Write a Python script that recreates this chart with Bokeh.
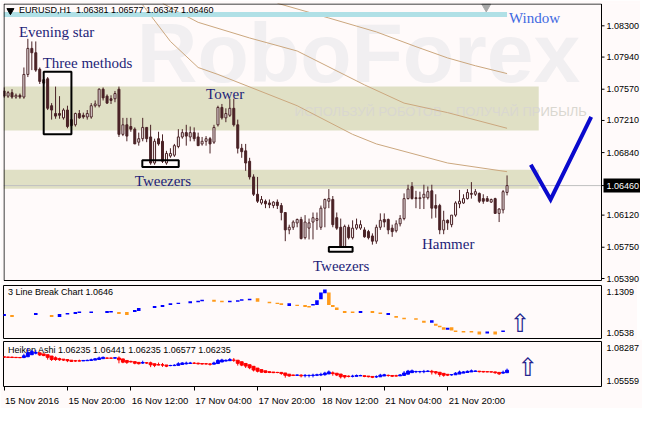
from bokeh.plotting import figure
from bokeh.layouts import column
from bokeh.models import ColumnDataSource, FixedTicker, PrintfTickFormatter, Range1d
from bokeh.core.properties import value
from bokeh.embed import file_html
from bokeh.resources import INLINE

# ---------------- data (EURUSD H1, bar index 0 = 15 Nov 2016 00:00) ----------------
open_ = [1.0755,1.0749,1.0753,1.0748,1.0750,1.0748,1.0774,1.0804,1.0799,1.0780,
         1.0764,1.0769,1.0738,1.0729,1.0729,1.0724,1.0733,1.0715,1.0716,1.0729,
         1.0727,1.0725,1.0725,1.0738,1.0738,1.0757,1.0749,1.0746,1.0746,1.0757,
         1.0705,1.0716,1.0714,1.0711,1.0696,1.0700,1.0713,1.0702,1.0672,1.0700,
         1.0697,1.0672,1.0680,1.0681,1.0691,1.0702,1.0707,1.0702,1.0707,1.0702,
         1.0694,1.0697,1.0700,1.0696,1.0716,1.0736,1.0724,1.0727,1.0735,1.0716,
         1.0689,1.0686,1.0674,1.0656,1.0636,1.0626,1.0628,1.0626,1.0623,1.0627,
         1.0623,1.0615,1.0595,1.0598,1.0603,1.0607,1.0586,1.0597,1.0604,1.0606,
         1.0598,1.0620,1.0628,1.0630,1.0609,1.0598,1.0575,1.0598,1.0586,1.0597,
         1.0597,1.0595,1.0593,1.0588,1.0582,1.0598,1.0607,1.0607,1.0597,1.0594,
         1.0602,1.0608,1.0631,1.0645,1.0632,1.0631,1.0632,1.0632,1.0640,1.0623,
         1.0623,1.0595,1.0606,1.0601,1.0612,1.0625,1.0626,1.0631,1.0637,1.0636,
         1.0637,1.0631,1.0631,1.0627,1.0631,1.0614,1.0618,1.06381]
high = [1.0759,1.0755,1.0757,1.0752,1.0752,1.0782,1.0815,1.0812,1.0812,1.0782,
        1.0771,1.0771,1.0741,1.0760,1.0749,1.0735,1.0738,1.0722,1.0730,1.0733,
        1.0730,1.0733,1.0741,1.0744,1.0758,1.0759,1.0751,1.0750,1.0755,1.0760,
        1.0724,1.0724,1.0724,1.0713,1.0707,1.0724,1.0713,1.0716,1.0700,1.0708,
        1.0705,1.0686,1.0689,1.0694,1.0711,1.0711,1.0716,1.0714,1.0713,1.0707,
        1.0702,1.0703,1.0702,1.0716,1.0738,1.0740,1.0735,1.0746,1.0746,1.0722,
        1.0694,1.0694,1.0678,1.0659,1.0656,1.0634,1.0630,1.0630,1.0628,1.0630,
        1.0626,1.0615,1.0601,1.0606,1.0608,1.0610,1.0612,1.0608,1.0615,1.0615,
        1.0623,1.0631,1.0642,1.0634,1.0615,1.0608,1.0601,1.0601,1.0606,1.0608,
        1.0606,1.0598,1.0595,1.0591,1.0601,1.0614,1.0614,1.0608,1.0601,1.0606,
        1.0612,1.0637,1.0647,1.0650,1.0640,1.0639,1.0647,1.0645,1.0647,1.0636,
        1.0625,1.0617,1.0607,1.0612,1.0628,1.0641,1.0636,1.0642,1.0650,1.0642,
        1.0638,1.0636,1.0634,1.0631,1.0632,1.0620,1.0641,1.06577]
low = [1.0747,1.0747,1.0746,1.0746,1.0746,1.0746,1.0771,1.0779,1.0777,1.0763,
       1.0762,1.0733,1.0722,1.0723,1.0723,1.0722,1.0712,1.0713,1.0714,1.0723,
       1.0723,1.0722,1.0723,1.0736,1.0736,1.0744,1.0740,1.0740,1.0742,1.0702,
       1.0703,1.0697,1.0708,1.0694,1.0692,1.0697,1.0696,1.0670,1.0670,1.0692,
       1.0672,1.0670,1.0678,1.0679,1.0689,1.0700,1.0692,1.0697,1.0697,1.0692,
       1.0692,1.0692,1.0683,1.0694,1.0714,1.0722,1.0719,1.0725,1.0714,1.0683,
       1.0678,1.0663,1.0653,1.0634,1.0626,1.0624,1.0620,1.0620,1.0620,1.0619,
       1.0606,1.0582,1.0590,1.0595,1.0598,1.0584,1.0584,1.0584,1.0584,1.0595,
       1.0595,1.0598,1.0620,1.0598,1.0595,1.0575,1.0575,1.0584,1.0584,1.0595,
       1.0595,1.0586,1.0584,1.0578,1.0579,1.0595,1.0598,1.0590,1.0587,1.0592,
       1.0599,1.0606,1.0630,1.0630,1.0620,1.0619,1.0619,1.0630,1.0608,1.0609,
       1.0590,1.0590,1.0595,1.0598,1.0610,1.0620,1.0625,1.0630,1.0631,1.0634,
       1.0626,1.0625,1.0628,1.0626,1.0614,1.0604,1.0614,1.06347]
close = [1.0749,1.0753,1.0748,1.0750,1.0748,1.0774,1.0804,1.0799,1.0779,1.0766,
         1.0768,1.0735,1.0733,1.0726,1.0727,1.0733,1.0714,1.0722,1.0729,1.0724,
         1.0725,1.0729,1.0738,1.0740,1.0757,1.0747,1.0741,1.0744,1.0752,1.0705,
         1.0716,1.0703,1.0711,1.0694,1.0700,1.0713,1.0700,1.0672,1.0697,1.0694,
         1.0674,1.0683,1.0683,1.0692,1.0702,1.0707,1.0703,1.0707,1.0700,1.0692,
         1.0697,1.0700,1.0694,1.0713,1.0736,1.0724,1.0729,1.0735,1.0716,1.0689,
         1.0685,1.0672,1.0656,1.0636,1.0628,1.0630,1.0625,1.0624,1.0627,1.0623,
         1.0615,1.0595,1.0598,1.0604,1.0607,1.0585,1.0604,1.0603,1.0609,1.0608,
         1.0620,1.0630,1.0631,1.0601,1.0597,1.0575,1.0599,1.0586,1.0597,1.0601,
         1.0601,1.0587,1.0586,1.0582,1.0598,1.0606,1.0604,1.0595,1.0593,1.0602,
         1.0608,1.0631,1.0642,1.0631,1.0631,1.0632,1.0636,1.0639,1.0620,1.0620,
         1.0595,1.0606,1.0603,1.0612,1.0626,1.0628,1.0631,1.0638,1.0636,1.0639,
         1.0628,1.0628,1.0628,1.0630,1.0614,1.0619,1.0639,1.06460]

# moving averages (bar index, price)
ma1_bar = [69, 82, 94, 104, 112, 119, 127]
ma1_val = [1.0856, 1.0839, 1.0823, 1.0806, 1.0793, 1.0784, 1.0775]
ma2_bar = [40, 44, 49, 62, 74, 91, 101, 112, 127]
ma2_val = [1.0856, 1.0846, 1.0834, 1.0816, 1.0801, 1.0762, 1.0741, 1.0730, 1.0712]
ma3_bar = [35, 42, 49, 54, 74, 88, 94, 112, 127]
ma3_val = [1.0854, 1.0812, 1.0782, 1.0774, 1.0738, 1.0705, 1.0694, 1.0672, 1.0662]

# support / resistance zones
zone_top = [1.0760, 1.06643]
zone_bottom = [1.07094, 1.06423]
zone_end_bar = 135

# "Window" line
window_price = 1.0843
window_end_bar = 127

# pattern labels
ann_text = ["Evening star", "Three methods", "Tower", "Tweezers", "Tweezers", "Hammer"]
ann_bar = [3.75, 9.75, 51.0, 33.0, 78.0, 105.5]
ann_price = [1.08224, 1.07875, 1.07520, 1.06511, 1.05529, 1.05785]

# pattern boxes
box_left = [10.0, 34.9, 82.0]
box_right = [17.0, 44.1, 88.0]
box_top = [1.0777, 1.06752, 1.05752]
box_bottom = [1.0705, 1.06673, 1.05697]

# forecast "V"
v_bar = [133.0, 138.0, 148.25]
v_price = [1.0670, 1.0630, 1.0725]

last_price = 1.06460
main_ticks = [1.0830, 1.0794, 1.0757, 1.0721, 1.0684, 1.0646, 1.0612, 1.0575, 1.0539]

# 3 Line Break blocks
lb_bar = [0,2,8,12,14,16,18,19,22,26,27,29,31,33,34,38,40,42,44,47,49,50,53,55,57,59,60,62,64,67,
          69,70,72,74,76,77,78,79,80,81,82,83,84,86,88,90,93,95,97,99,101,104,106,108,109,110,111,
          112,113,114,116,118,120,122,124,126]
lb_top = [1.0896,1.0877,1.0915,1.0877,1.0896,1.0915,1.0933,1.0943,1.0943,1.0952,1.0952,1.0933,1.0933,
          1.0971,1.1009,1.1046,1.1065,1.1103,1.1112,1.1140,1.1150,1.1168,1.1168,1.1150,1.1150,1.1159,
          1.1178,1.1187,1.1197,1.1131,1.1112,1.1103,1.1103,1.1074,1.1065,1.1046,1.1084,1.1159,1.1309,
          1.1366,1.1309,1.1065,1.1018,1.0952,1.0943,1.0952,1.0952,1.0924,1.0915,1.0858,1.0821,1.0811,
          1.0764,1.0774,1.0708,1.0670,1.0642,1.0633,1.0642,1.0576,1.0567,1.0567,1.0557,1.0557,1.0557,1.0576]
lb_bottom = [1.0858,1.0839,1.0877,1.0839,1.0839,1.0886,1.0896,1.0915,1.0915,1.0915,1.0924,1.0896,1.0877,
             1.0933,1.0952,1.1009,1.1027,1.1065,1.1084,1.1103,1.1121,1.1140,1.1131,1.1121,1.1121,1.1131,
             1.1150,1.1159,1.1131,1.1103,1.1084,1.1065,1.1046,1.1046,1.1027,1.1018,1.1056,1.1065,1.1178,
             1.1291,1.1065,1.1027,1.0971,1.0915,1.0915,1.0915,1.0915,1.0896,1.0877,1.0821,1.0792,1.0783,
             1.0727,1.0727,1.0670,1.0642,1.0595,1.0595,1.0576,1.0548,1.0538,1.0538,1.0501,1.0520,1.0501,1.0548]
lb_up = [1,0,1,0,1,1,1,1,1,1,1,0,0,1,1,1,1,1,1,1,1,1,0,0,1,1,1,1,0,0,
         0,0,1,0,0,0,1,1,1,1,0,0,0,0,0,1,0,0,1,0,0,0,0,1,0,0,0,
         1,0,0,0,0,0,1,0,1]
lb_ticks = [1.0538, 1.1309]

# Heiken Ashi
ha_open = [1.0757,1.0755,1.0754,1.0752,1.0751,1.0750,1.0757,1.0774,1.0787,1.0790,
           1.0781,1.0774,1.0763,1.0748,1.0741,1.0737,1.0733,1.0728,1.0723,1.0723,
           1.0722,1.0724,1.0726,1.0729,1.0734,1.0741,1.0746,1.0746,1.0745,1.0747,
           1.0739,1.0726,1.0718,1.0716,1.0710,1.0704,1.0706,1.0706,1.0698,1.0691,
           1.0690,1.0688,1.0683,1.0683,1.0685,1.0692,1.0698,1.0701,1.0703,1.0703,
           1.0700,1.0698,1.0697,1.0695,1.0700,1.0713,1.0721,1.0724,1.0729,1.0728,
           1.0715,1.0701,1.0690,1.0677,1.0662,1.0649,1.0639,1.0632,1.0629,1.0626,
           1.0626,1.0621,1.0611,1.0604,1.0602,1.0603,1.0599,1.0600,1.0600,1.0602,
           1.0604,1.0607,1.0613,1.0622,1.0619,1.0612,1.0600,1.0594,1.0593,1.0593,
           1.0597,1.0598,1.0595,1.0592,1.0589,1.0589,1.0596,1.0601,1.0600,1.0597,
           1.0597,1.0601,1.0611,1.0624,1.0632,1.0632,1.0632,1.0633,1.0635,1.0632,
           1.0627,1.0618,1.0610,1.0606,1.0606,1.0612,1.0620,1.0625,1.0630,1.0634,
           1.0636,1.0634,1.0632,1.0631,1.0630,1.0626,1.0620,1.06235]
ha_close = [1.0753,1.0752,1.0751,1.0750,1.0749,1.0765,1.0790,1.0800,1.0792,1.0772,
            1.0767,1.0752,1.0734,1.0734,1.0732,1.0729,1.0724,1.0718,1.0722,1.0721,
            1.0726,1.0727,1.0732,1.0740,1.0747,1.0752,1.0745,1.0745,1.0749,1.0731,
            1.0712,1.0710,1.0714,1.0703,1.0699,1.0709,1.0705,1.0690,1.0685,1.0688,
            1.0687,1.0678,1.0684,1.0686,1.0698,1.0705,1.0704,1.0705,1.0702,1.0698,
            1.0696,1.0697,1.0694,1.0705,1.0726,1.0730,1.0727,1.0733,1.0728,1.0702,
            1.0687,1.0679,1.0665,1.0646,1.0636,1.0628,1.0626,1.0625,1.0624,1.0625,
            1.0617,1.0602,1.0596,1.0601,1.0604,1.0597,1.0601,1.0601,1.0603,1.0606,
            1.0609,1.0620,1.0630,1.0616,1.0604,1.0589,1.0588,1.0592,1.0594,1.0600,
            1.0600,1.0592,1.0590,1.0585,1.0590,1.0603,1.0606,1.0600,1.0594,1.0596,
            1.0605,1.0621,1.0637,1.0639,1.0633,1.0633,1.0634,1.0637,1.0629,1.0622,
            1.0608,1.0602,1.0603,1.0607,1.0619,1.0629,1.0630,1.0635,1.0639,1.0638,
            1.0632,1.0630,1.0630,1.0629,1.0623,1.0614,1.0627,1.06441]
ha_high = [1.0757,1.0755,1.0757,1.0752,1.0752,1.0782,1.0829,1.0815,1.0812,1.0790,
           1.0781,1.0774,1.0763,1.0760,1.0749,1.0737,1.0738,1.0728,1.0730,1.0733,
           1.0730,1.0733,1.0741,1.0744,1.0758,1.0759,1.0751,1.0750,1.0755,1.0760,
           1.0739,1.0726,1.0724,1.0716,1.0710,1.0724,1.0713,1.0716,1.0700,1.0708,
           1.0705,1.0688,1.0689,1.0694,1.0711,1.0711,1.0716,1.0714,1.0713,1.0707,
           1.0702,1.0703,1.0702,1.0716,1.0738,1.0740,1.0735,1.0746,1.0746,1.0728,
           1.0715,1.0701,1.0690,1.0677,1.0662,1.0649,1.0639,1.0632,1.0629,1.0630,
           1.0626,1.0621,1.0611,1.0606,1.0608,1.0610,1.0612,1.0608,1.0615,1.0615,
           1.0623,1.0631,1.0642,1.0634,1.0619,1.0612,1.0601,1.0601,1.0606,1.0608,
           1.0606,1.0598,1.0595,1.0592,1.0601,1.0614,1.0614,1.0608,1.0601,1.0606,
           1.0612,1.0637,1.0647,1.0650,1.0640,1.0639,1.0647,1.0645,1.0647,1.0636,
           1.0627,1.0618,1.0610,1.0612,1.0628,1.0641,1.0636,1.0642,1.0650,1.0642,
           1.0638,1.0636,1.0634,1.0631,1.0632,1.0626,1.0641,1.06577]
ha_low = [1.0749,1.0748,1.0746,1.0746,1.0746,1.0746,1.0757,1.0774,1.0777,1.0763,
          1.0762,1.0733,1.0722,1.0723,1.0723,1.0722,1.0712,1.0713,1.0714,1.0718,
          1.0722,1.0722,1.0723,1.0729,1.0734,1.0741,1.0740,1.0740,1.0742,1.0702,
          1.0703,1.0697,1.0708,1.0694,1.0692,1.0697,1.0696,1.0670,1.0670,1.0685,
          1.0672,1.0670,1.0678,1.0679,1.0685,1.0692,1.0692,1.0697,1.0697,1.0692,
          1.0692,1.0692,1.0683,1.0694,1.0700,1.0713,1.0719,1.0724,1.0714,1.0683,
          1.0678,1.0663,1.0653,1.0634,1.0626,1.0624,1.0620,1.0620,1.0620,1.0619,
          1.0606,1.0582,1.0590,1.0595,1.0598,1.0584,1.0584,1.0584,1.0584,1.0595,
          1.0595,1.0598,1.0613,1.0598,1.0595,1.0575,1.0575,1.0584,1.0584,1.0593,
          1.0595,1.0586,1.0584,1.0578,1.0579,1.0589,1.0596,1.0590,1.0587,1.0592,
          1.0597,1.0601,1.0611,1.0624,1.0620,1.0619,1.0619,1.0630,1.0608,1.0609,
          1.0590,1.0590,1.0595,1.0598,1.0606,1.0612,1.0620,1.0625,1.0630,1.0634,
          1.0626,1.0625,1.0628,1.0626,1.0614,1.0604,1.0614,1.06235]
ha_ticks = [1.05559, 1.08287]

time_ticks = [0, 16, 32, 48, 64, 80, 96, 112]
time_labels = ["15 Nov 2016", "15 Nov 20:00", "16 Nov 12:00", "17 Nov 04:00",
               "17 Nov 20:00", "18 Nov 12:00", "21 Nov 04:00", "21 Nov 20:00"]

# ---------------- styling ----------------
BG = "#FFFAFA"
CANDLE = "#4A2226"
MA_COLOR = "#CBA77E"
ZONE = "#E0E0C5"
NAVY = "#1E1E78"
SANS = "Liberation Sans"
SERIF = "Liberation Serif"
LEFT = 3          # left border (px)
FW = 598          # chart width (px)
AX = 39           # price-scale strip of the main chart (px)
CH = 277          # main chart height (px)
EXTRA = 3         # room below main chart for the lowest price label

xr = Range1d(-0.15, 150.85)
ppb = FW / (xr.end - xr.start)


def base_fig(frame_w, frame_h, x_range, y_range, top, bottom, **kw):
    f = figure(frame_width=frame_w, frame_height=frame_h, x_range=x_range, y_range=y_range,
               output_backend="svg", toolbar_location=None,
               min_border_left=LEFT, min_border_right=0, min_border_top=top, min_border_bottom=bottom,
               background_fill_color=BG, border_fill_color=BG, **kw)
    f.xgrid.visible = False
    f.ygrid.visible = False
    return f


def style_yaxis(ax, ticks, fmt):
    ax.ticker = FixedTicker(ticks=ticks)
    ax.formatter = PrintfTickFormatter(format=fmt)
    ax.axis_line_color = None
    ax.major_label_text_font = SANS
    ax.major_label_text_font_size = "9px"
    ax.major_label_text_color = "black"
    ax.minor_tick_line_color = None
    ax.major_tick_line_color = None
    ax.major_tick_in = 0
    ax.major_tick_out = 0
    ax.major_label_standoff = 5


# ---------------- main chart (frame also holds its price strip) ----------------
ylo, yhi = 1.05367, 1.08557
pxp = (yhi - ylo) / CH
main_xr = Range1d(xr.start, xr.end + AX / ppb)
main = base_fig(FW + AX, CH + EXTRA, main_xr, Range1d(ylo - EXTRA * pxp, yhi), LEFT, 0,
                x_axis_location=None, y_axis_location=None, outline_line_color=None)

main.text(x=[89.5], y=[1.0799], text=["RoboForex"], text_font=value(SANS), text_font_style="bold",
          text_font_size="84px", text_color="#F1EFF1", text_align="center", text_baseline="middle")

main.quad(left=[xr.start, xr.start], right=[zone_end_bar, zone_end_bar], top=zone_top,
          bottom=zone_bottom, fill_color=ZONE, line_color=None)
main.text(x=[110.25], y=[1.0731], text=["ИСПОЛЬЗУЙ РОБОТОВ – ПОЛУЧАЙ ПРИБЫЛЬ"],
          text_font=value(SANS), text_font_size="13px", text_color="#D9D7D0",
          text_align="center", text_baseline="middle")

for bx, vy in ((ma1_bar, ma1_val), (ma2_bar, ma2_val), (ma3_bar, ma3_val)):
    main.line(bx, vy, line_color=MA_COLOR, line_width=1)

main.segment(x0=[xr.start], y0=[last_price], x1=[xr.end], y1=[last_price],
             line_color="#C0C0C0", line_width=1)
main.segment(x0=[xr.start], y0=[window_price], x1=[window_end_bar], y1=[window_price],
             line_color="#B0E0E6", line_width=5)

bars = list(range(len(open_)))
src = ColumnDataSource(dict(
    x=bars, h=high, l=low,
    top=[max(o, c) for o, c in zip(open_, close)],
    bottom=[min(o, c) for o, c in zip(open_, close)],
    fill=[BG if c >= o else CANDLE for o, c in zip(open_, close)],
))
main.segment(x0="x", y0="h", x1="x", y1="l", source=src, line_color=CANDLE, line_width=1)
main.vbar(x="x", width=0.5, top="top", bottom="bottom", source=src,
          fill_color="fill", line_color=CANDLE, line_width=1)

main.quad(left=box_left, right=box_right, top=box_top, bottom=box_bottom,
          fill_color=None, line_color="black", line_width=2)

main.text(x=ann_bar, y=ann_price, text=ann_text, text_font=value(SERIF), text_font_size="15px",
          text_color=NAVY, text_align="left", text_baseline="alphabetic")
main.text(x=[window_end_bar + 0.5], y=[1.08389], text=["Window"], text_font=value(SERIF),
          text_font_size="15px", text_color="#4169E1", text_align="left", text_baseline="alphabetic")

main.scatter(x=[1.6], y=[1.08475], marker="inverted_triangle", size=7, color="black")
main.scatter(x=[121.75], y=[1.0852], marker="inverted_triangle", size=9, color="#A8A8A8")
main.text(x=[3.75], y=[1.0848], text=["EURUSD,H1\u00a0 1.06381 1.06577 1.06347 1.06460"],
          text_font=value(SANS), text_font_size="9px", text_color="black",
          text_align="left", text_baseline="middle")

main.line(v_bar, v_price, line_color="#0A0ACD", line_width=4, line_join="miter")

# chart border
main.quad(left=[xr.start + 0.5 / ppb], right=[xr.end], top=[yhi - 0.5 * pxp], bottom=[ylo],
          fill_color=None, line_color="black", line_width=1)

# price scale: ticks, labels, highlighted last price
tick_x0 = xr.end
tick_x1 = xr.end + 3 / ppb
lab_x = xr.end + 5 / ppb
main.segment(x0=[tick_x0] * len(main_ticks), y0=main_ticks, x1=[tick_x1] * len(main_ticks),
             y1=main_ticks, line_color="black", line_width=1)
other = [t for t in main_ticks if abs(t - last_price) > 1e-6]
main.text(x=[lab_x] * len(other), y=other, text=["%.5f" % t for t in other],
          text_font=value(SANS), text_font_size="9px", text_color="black",
          text_align="left", text_baseline="middle")
main.quad(left=[xr.end + 2 / ppb], right=[xr.end + (AX - 0.5) / ppb],
          top=[last_price + 7 * pxp], bottom=[last_price - 7 * pxp],
          fill_color="black", line_color=None)
main.text(x=[lab_x], y=[last_price], text=["%.5f" % last_price],
          text_font=value(SANS), text_font_size="9px", text_color="white",
          text_align="left", text_baseline="middle")

# ---------------- 3 Line Break ----------------
sub1 = base_fig(FW, 53, xr, Range1d(1.0425, 1.1441), 2, 1,
                y_axis_location="right", x_axis_location=None,
                outline_line_color="black", outline_line_width=1)
style_yaxis(sub1.yaxis[0], lb_ticks, "%.4f")
sub1.text(x=[1], y=[1.1309], text=["3 Line Break Chart 1.0646"], text_font=value(SANS),
          text_font_size="9px", text_color="black", text_align="left", text_baseline="middle")
sub1.quad(left=[b - 0.45 for b in lb_bar], right=[b + 0.45 for b in lb_bar],
          top=lb_top, bottom=lb_bottom,
          fill_color=["#0000FF" if u else "#FF9A1A" for u in lb_up], line_color=None)
sub1.text(x=[130.25], y=[1.0705], text=["\u21e7"], text_font=value("DejaVu Sans"),
          text_font_size="25px", text_color="#24248E", text_align="center", text_baseline="middle")

# ---------------- Heiken Ashi ----------------
sub2 = base_fig(FW, 45, xr, Range1d(1.05078, 1.08848), 2, 0,
                y_axis_location="right", x_axis_location="below",
                outline_line_color="black", outline_line_width=1)
style_yaxis(sub2.yaxis[0], ha_ticks, "%.5f")
sub2.text(x=[1], y=[1.0813], text=["Heiken Ashi 1.06235 1.06441 1.06235 1.06577 1.06235"],
          text_font=value(SANS), text_font_size="9px", text_color="black",
          text_align="left", text_baseline="middle")
ha_col = ["#0000FF" if c >= o else "#FF0000" for o, c in zip(ha_open, ha_close)]
hsrc = ColumnDataSource(dict(
    x=bars, h=ha_high, l=ha_low,
    top=[max(o, c) for o, c in zip(ha_open, ha_close)],
    bottom=[min(o, c) for o, c in zip(ha_open, ha_close)],
    col=ha_col,
))
sub2.segment(x0="x", y0="h", x1="x", y1="l", source=hsrc, line_color="col", line_width=1)
sub2.vbar(x="x", width=0.75, top="top", bottom="bottom", source=hsrc,
          fill_color="col", line_color="col", line_width=1)
sub2.text(x=[132.25], y=[1.0668], text=["\u21e7"], text_font=value("DejaVu Sans"),
          text_font_size="25px", text_color="#24248E", text_align="center", text_baseline="middle")

# time axis: labels start just right of their tick (label centre shifted right of the tick)
CH_W = {"N": 0.722, "o": 0.556, "v": 0.5, " ": 0.278, ":": 0.278}
LAB_PX = 9.5


def text_w(s):
    return sum(CH_W.get(ch, 0.556) for ch in s) * LAB_PX


centres = [round(t + (1 + text_w(s) / 2) / ppb, 2) for t, s in zip(time_ticks, time_labels)]
xa = sub2.xaxis[0]
xa.ticker = FixedTicker(ticks=centres, minor_ticks=time_ticks)
xa.major_label_overrides = {c: s for c, s in zip(centres, time_labels)}
xa.axis_line_color = None
xa.major_tick_line_color = None
xa.major_tick_out = 0
xa.major_tick_in = 0
xa.minor_tick_line_color = "black"
xa.minor_tick_out = 4
xa.minor_tick_in = 0
xa.major_label_text_font = SANS
xa.major_label_text_font_size = "9.5px"
xa.major_label_text_color = "black"
xa.major_label_standoff = 4

layout = column(main, sub1, sub2, spacing=0)
open("out.html", "w").write(file_html(layout, INLINE))
